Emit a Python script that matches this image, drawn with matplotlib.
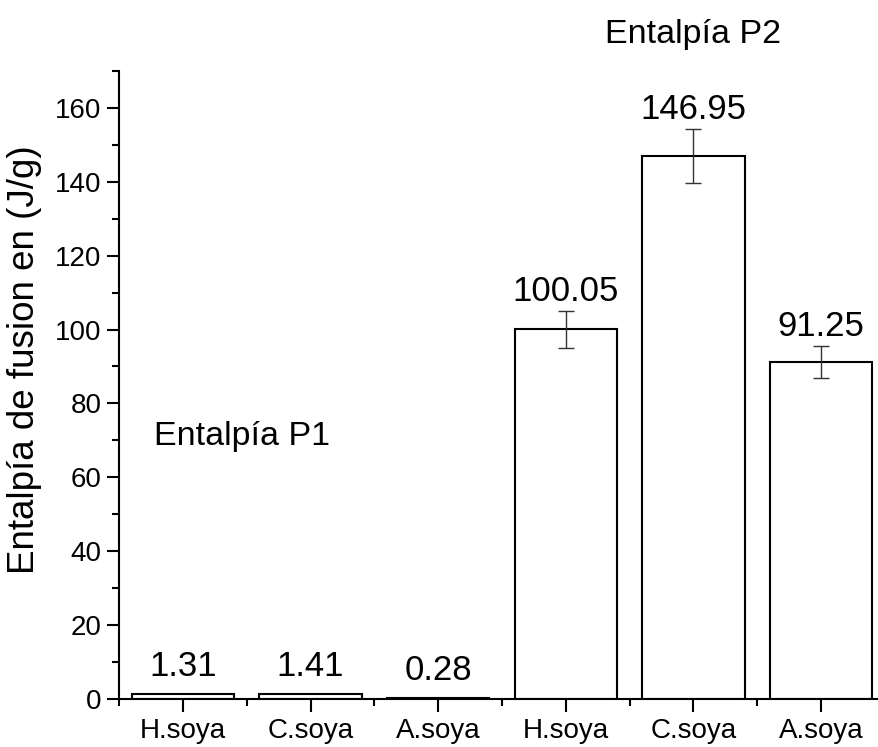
import numpy as np
import matplotlib.pyplot as plt
from matplotlib.ticker import MultipleLocator

plt.rcParams['font.family'] = ['Liberation Sans', 'DejaVu Sans']

# data
categories = ['H.soya', 'C.soya', 'A.soya', 'H.soya', 'C.soya', 'A.soya']
values = [1.31, 1.41, 0.28, 100.05, 146.95, 91.25]
errors = [0.0, 0.0, 0.0, 5.0, 7.3, 4.4]
value_labels = ['1.31', '1.41', '0.28', '100.05', '146.95', '91.25']

x = np.arange(1, len(categories) + 1)

fig = plt.figure(figsize=(8.79, 7.47), dpi=100)
ax = fig.add_axes([0.1354, 0.0643, 0.8714, 0.8407])

ax.bar(x, values, width=0.8, color='white', edgecolor='black', linewidth=1.5, zorder=2)
has_err = np.array(errors) > 0
ax.errorbar(x[has_err], np.array(values)[has_err], yerr=np.array(errors)[has_err],
            fmt='none', ecolor='#333333', elinewidth=1.0, capsize=5.5, capthick=1.0, zorder=3)

for xi, v, e, lab in zip(x, values, errors, value_labels):
    off = 2 if e > 0 else 8
    ax.annotate(lab, (xi, v + e), xytext=(0, off), textcoords='offset points',
                ha='center', va='bottom', fontsize=25)

ax.text(5, 180, 'Entalpía P2', ha='center', va='center', fontsize=24.5, clip_on=False)
ax.text(1.46, 71, 'Entalpía P1', ha='center', va='center', fontsize=24.5)

ax.set_xlim(0.5, 6.5)
ax.set_ylim(0, 170)
ax.set_xticks(x)
ax.set_xticklabels(categories)
ax.xaxis.set_minor_locator(MultipleLocator(1, offset=0.5))
ax.yaxis.set_major_locator(MultipleLocator(20))
ax.yaxis.set_minor_locator(MultipleLocator(10))
ax.set_yticks([0, 20, 40, 60, 80, 100, 120, 140, 160])

ax.tick_params(axis='both', which='major', labelsize=20, width=1.5, length=9, direction='out')
ax.tick_params(axis='both', which='minor', width=1.5, length=5, direction='out')
ax.tick_params(axis='x', which='major', pad=5)

ax.set_ylabel('Entalpía de fusion en (J/g)', fontsize=26.5)
ax.yaxis.set_label_coords(-0.10, 0.54)

for s in ['top', 'right']:
    ax.spines[s].set_visible(False)
for s in ['left', 'bottom']:
    ax.spines[s].set_linewidth(1.5)

fig.savefig('out.png', dpi=100)
